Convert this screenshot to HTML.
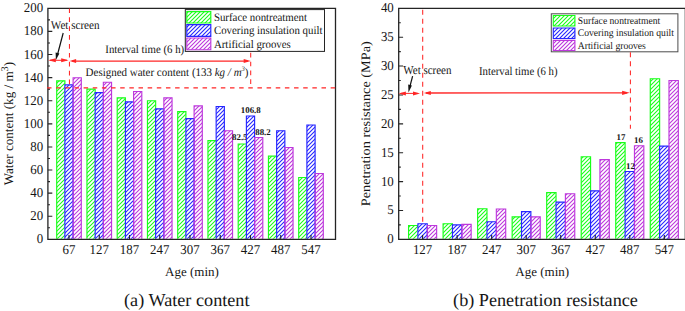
<!DOCTYPE html>
<html lang="en"><head><meta charset="utf-8"><title>Water content and penetration resistance</title>
<style>html,body{margin:0;padding:0;background:#fff}body{width:685px;height:311px;overflow:hidden}svg{display:block;font-family:"Liberation Serif","Times New Roman",Times,serif;fill:#111}svg text{fill:#161616;text-rendering:geometricPrecision}</style></head><body>
<svg width="685" height="311" viewBox="0 0 685 311">
<defs>
</defs>
<rect width="685" height="311" fill="#fff"/>
<g id="chart-a">
<rect x="185.3" y="9.6" width="139.2" height="41.8" fill="#fff" stroke="#242424" stroke-width="1"/>
<clipPath id="ag"><rect x="56.7" y="80.85" width="8.2" height="158"/><rect x="86.95" y="89.17" width="8.2" height="149.68"/><rect x="117.2" y="97.83" width="8.2" height="141.02"/><rect x="147.45" y="100.72" width="8.2" height="138.13"/><rect x="177.7" y="111.69" width="8.2" height="127.16"/><rect x="207.95" y="140.58" width="8.2" height="98.27"/><rect x="238.2" y="144.04" width="8.2" height="94.81"/><rect x="268.45" y="156.17" width="8.2" height="82.68"/><rect x="298.7" y="177.54" width="8.2" height="61.31"/><rect x="186.8" y="11.65" width="24" height="11.3"/></clipPath>
<path d="M47.9,12.1L51.7,8.3M47.9,16.1L55.7,8.3M47.9,20.1L59.7,8.3M47.9,24.1L63.7,8.3M47.9,28.1L67.7,8.3M47.9,32.1L71.7,8.3M47.9,36.1L75.7,8.3M47.9,40.1L79.7,8.3M47.9,44.1L83.7,8.3M47.9,48.1L87.7,8.3M47.9,52.1L91.7,8.3M47.9,56.1L95.7,8.3M47.9,60.1L99.7,8.3M47.9,64.1L103.7,8.3M47.9,68.1L107.7,8.3M47.9,72.1L111.7,8.3M47.9,76.1L115.7,8.3M47.9,80.1L119.7,8.3M47.9,84.1L123.7,8.3M47.9,88.1L127.7,8.3M47.9,92.1L131.7,8.3M47.9,96.1L135.7,8.3M47.9,100.1L139.7,8.3M47.9,104.1L143.7,8.3M47.9,108.1L147.7,8.3M47.9,112.1L151.7,8.3M47.9,116.1L155.7,8.3M47.9,120.1L159.7,8.3M47.9,124.1L163.7,8.3M47.9,128.1L167.7,8.3M47.9,132.1L171.7,8.3M47.9,136.1L175.7,8.3M47.9,140.1L179.7,8.3M47.9,144.1L183.7,8.3M47.9,148.1L187.7,8.3M47.9,152.1L191.7,8.3M47.9,156.1L195.7,8.3M47.9,160.1L199.7,8.3M47.9,164.1L203.7,8.3M47.9,168.1L207.7,8.3M47.9,172.1L211.7,8.3M47.9,176.1L215.7,8.3M47.9,180.1L219.7,8.3M47.9,184.1L223.7,8.3M47.9,188.1L227.7,8.3M47.9,192.1L231.7,8.3M47.9,196.1L235.7,8.3M47.9,200.1L239.7,8.3M47.9,204.1L243.7,8.3M47.9,208.1L247.7,8.3M47.9,212.1L251.7,8.3M47.9,216.1L255.7,8.3M47.9,220.1L259.7,8.3M47.9,224.1L263.7,8.3M47.9,228.1L267.7,8.3M47.9,232.1L271.7,8.3M47.9,236.1L275.7,8.3M48.65,239.35L279.7,8.3M52.65,239.35L283.7,8.3M56.65,239.35L287.7,8.3M60.65,239.35L291.7,8.3M64.65,239.35L295.7,8.3M68.65,239.35L299.7,8.3M72.65,239.35L303.7,8.3M76.65,239.35L307.7,8.3M80.65,239.35L311.7,8.3M84.65,239.35L315.7,8.3M88.65,239.35L319.7,8.3M92.65,239.35L323.7,8.3M96.65,239.35L327.7,8.3M100.65,239.35L331.7,8.3M104.65,239.35L335.5,8.5M108.65,239.35L335.5,12.5M112.65,239.35L335.5,16.5M116.65,239.35L335.5,20.5M120.65,239.35L335.5,24.5M124.65,239.35L335.5,28.5M128.65,239.35L335.5,32.5M132.65,239.35L335.5,36.5M136.65,239.35L335.5,40.5M140.65,239.35L335.5,44.5M144.65,239.35L335.5,48.5M148.65,239.35L335.5,52.5M152.65,239.35L335.5,56.5M156.65,239.35L335.5,60.5M160.65,239.35L335.5,64.5M164.65,239.35L335.5,68.5M168.65,239.35L335.5,72.5M172.65,239.35L335.5,76.5M176.65,239.35L335.5,80.5M180.65,239.35L335.5,84.5M184.65,239.35L335.5,88.5M188.65,239.35L335.5,92.5M192.65,239.35L335.5,96.5M196.65,239.35L335.5,100.5M200.65,239.35L335.5,104.5M204.65,239.35L335.5,108.5M208.65,239.35L335.5,112.5M212.65,239.35L335.5,116.5M216.65,239.35L335.5,120.5M220.65,239.35L335.5,124.5M224.65,239.35L335.5,128.5M228.65,239.35L335.5,132.5M232.65,239.35L335.5,136.5M236.65,239.35L335.5,140.5M240.65,239.35L335.5,144.5M244.65,239.35L335.5,148.5M248.65,239.35L335.5,152.5M252.65,239.35L335.5,156.5M256.65,239.35L335.5,160.5M260.65,239.35L335.5,164.5M264.65,239.35L335.5,168.5M268.65,239.35L335.5,172.5M272.65,239.35L335.5,176.5M276.65,239.35L335.5,180.5M280.65,239.35L335.5,184.5M284.65,239.35L335.5,188.5M288.65,239.35L335.5,192.5M292.65,239.35L335.5,196.5M296.65,239.35L335.5,200.5M300.65,239.35L335.5,204.5M304.65,239.35L335.5,208.5M308.65,239.35L335.5,212.5M312.65,239.35L335.5,216.5M316.65,239.35L335.5,220.5M320.65,239.35L335.5,224.5M324.65,239.35L335.5,228.5M328.65,239.35L335.5,232.5M332.65,239.35L335.5,236.5" clip-path="url(#ag)" stroke="#19ff19" stroke-width="1.1" fill="none"/>
<path d="M56.7,238.85V80.85H64.9V84.89M86.95,238.85V89.17H95.15V92.63M117.2,238.85V97.83H125.4V101.88M147.45,238.85V100.72H155.65V108.81M177.7,238.85V111.69H185.9V118.63M207.95,238.85V140.58H216.15M238.2,238.85V144.04H246.4M268.45,238.85V156.17H276.65M298.7,238.85V177.54H306.9" fill="none" stroke="#19ff19" stroke-width="1.15"/>
<path d="M186.8,22.95V11.65H210.8V22.95H186.8Z" fill="none" stroke="#19ff19" stroke-width="1.15"/>
<clipPath id="ab"><rect x="64.9" y="84.89" width="8.2" height="153.96"/><rect x="95.15" y="92.63" width="8.2" height="146.22"/><rect x="125.4" y="101.88" width="8.2" height="136.97"/><rect x="155.65" y="108.81" width="8.2" height="130.04"/><rect x="185.9" y="118.63" width="8.2" height="120.22"/><rect x="216.15" y="106.5" width="8.2" height="132.35"/><rect x="246.4" y="115.97" width="8.2" height="122.88"/><rect x="276.65" y="130.76" width="8.2" height="108.09"/><rect x="306.9" y="124.98" width="8.2" height="113.87"/><rect x="186.8" y="24.55" width="24" height="11.75"/></clipPath>
<path d="M47.9,10.1L49.7,8.3M47.9,14.1L53.7,8.3M47.9,18.1L57.7,8.3M47.9,22.1L61.7,8.3M47.9,26.1L65.7,8.3M47.9,30.1L69.7,8.3M47.9,34.1L73.7,8.3M47.9,38.1L77.7,8.3M47.9,42.1L81.7,8.3M47.9,46.1L85.7,8.3M47.9,50.1L89.7,8.3M47.9,54.1L93.7,8.3M47.9,58.1L97.7,8.3M47.9,62.1L101.7,8.3M47.9,66.1L105.7,8.3M47.9,70.1L109.7,8.3M47.9,74.1L113.7,8.3M47.9,78.1L117.7,8.3M47.9,82.1L121.7,8.3M47.9,86.1L125.7,8.3M47.9,90.1L129.7,8.3M47.9,94.1L133.7,8.3M47.9,98.1L137.7,8.3M47.9,102.1L141.7,8.3M47.9,106.1L145.7,8.3M47.9,110.1L149.7,8.3M47.9,114.1L153.7,8.3M47.9,118.1L157.7,8.3M47.9,122.1L161.7,8.3M47.9,126.1L165.7,8.3M47.9,130.1L169.7,8.3M47.9,134.1L173.7,8.3M47.9,138.1L177.7,8.3M47.9,142.1L181.7,8.3M47.9,146.1L185.7,8.3M47.9,150.1L189.7,8.3M47.9,154.1L193.7,8.3M47.9,158.1L197.7,8.3M47.9,162.1L201.7,8.3M47.9,166.1L205.7,8.3M47.9,170.1L209.7,8.3M47.9,174.1L213.7,8.3M47.9,178.1L217.7,8.3M47.9,182.1L221.7,8.3M47.9,186.1L225.7,8.3M47.9,190.1L229.7,8.3M47.9,194.1L233.7,8.3M47.9,198.1L237.7,8.3M47.9,202.1L241.7,8.3M47.9,206.1L245.7,8.3M47.9,210.1L249.7,8.3M47.9,214.1L253.7,8.3M47.9,218.1L257.7,8.3M47.9,222.1L261.7,8.3M47.9,226.1L265.7,8.3M47.9,230.1L269.7,8.3M47.9,234.1L273.7,8.3M47.9,238.1L277.7,8.3M50.65,239.35L281.7,8.3M54.65,239.35L285.7,8.3M58.65,239.35L289.7,8.3M62.65,239.35L293.7,8.3M66.65,239.35L297.7,8.3M70.65,239.35L301.7,8.3M74.65,239.35L305.7,8.3M78.65,239.35L309.7,8.3M82.65,239.35L313.7,8.3M86.65,239.35L317.7,8.3M90.65,239.35L321.7,8.3M94.65,239.35L325.7,8.3M98.65,239.35L329.7,8.3M102.65,239.35L333.7,8.3M106.65,239.35L335.5,10.5M110.65,239.35L335.5,14.5M114.65,239.35L335.5,18.5M118.65,239.35L335.5,22.5M122.65,239.35L335.5,26.5M126.65,239.35L335.5,30.5M130.65,239.35L335.5,34.5M134.65,239.35L335.5,38.5M138.65,239.35L335.5,42.5M142.65,239.35L335.5,46.5M146.65,239.35L335.5,50.5M150.65,239.35L335.5,54.5M154.65,239.35L335.5,58.5M158.65,239.35L335.5,62.5M162.65,239.35L335.5,66.5M166.65,239.35L335.5,70.5M170.65,239.35L335.5,74.5M174.65,239.35L335.5,78.5M178.65,239.35L335.5,82.5M182.65,239.35L335.5,86.5M186.65,239.35L335.5,90.5M190.65,239.35L335.5,94.5M194.65,239.35L335.5,98.5M198.65,239.35L335.5,102.5M202.65,239.35L335.5,106.5M206.65,239.35L335.5,110.5M210.65,239.35L335.5,114.5M214.65,239.35L335.5,118.5M218.65,239.35L335.5,122.5M222.65,239.35L335.5,126.5M226.65,239.35L335.5,130.5M230.65,239.35L335.5,134.5M234.65,239.35L335.5,138.5M238.65,239.35L335.5,142.5M242.65,239.35L335.5,146.5M246.65,239.35L335.5,150.5M250.65,239.35L335.5,154.5M254.65,239.35L335.5,158.5M258.65,239.35L335.5,162.5M262.65,239.35L335.5,166.5M266.65,239.35L335.5,170.5M270.65,239.35L335.5,174.5M274.65,239.35L335.5,178.5M278.65,239.35L335.5,182.5M282.65,239.35L335.5,186.5M286.65,239.35L335.5,190.5M290.65,239.35L335.5,194.5M294.65,239.35L335.5,198.5M298.65,239.35L335.5,202.5M302.65,239.35L335.5,206.5M306.65,239.35L335.5,210.5M310.65,239.35L335.5,214.5M314.65,239.35L335.5,218.5M318.65,239.35L335.5,222.5M322.65,239.35L335.5,226.5M326.65,239.35L335.5,230.5M330.65,239.35L335.5,234.5M334.65,239.35L335.5,238.5" clip-path="url(#ab)" stroke="#2626ff" stroke-width="1.1" fill="none"/>
<path d="M64.9,238.85V84.89H73.1V238.85M95.15,238.85V92.63H103.35V238.85M125.4,238.85V101.88H133.6V238.85M155.65,238.85V108.81H163.85V238.85M185.9,238.85V118.63H194.1V238.85M216.15,238.85V106.5H224.35V238.85M246.4,238.85V115.97H254.6V238.85M276.65,238.85V130.76H284.85V238.85M306.9,238.85V124.98H315.1V238.85" fill="none" stroke="#2626ff" stroke-width="1.15"/>
<path d="M186.8,36.3V24.55H210.8V36.3H186.8Z" fill="none" stroke="#2626ff" stroke-width="1.15"/>
<clipPath id="ap"><rect x="73.1" y="77.73" width="8.2" height="161.12"/><rect x="103.35" y="82.24" width="8.2" height="156.61"/><rect x="133.6" y="91.48" width="8.2" height="147.37"/><rect x="163.85" y="97.83" width="8.2" height="141.02"/><rect x="194.1" y="105.92" width="8.2" height="132.93"/><rect x="224.35" y="130.76" width="8.2" height="108.09"/><rect x="254.6" y="137.46" width="8.2" height="101.39"/><rect x="284.85" y="147.51" width="8.2" height="91.34"/><rect x="315.1" y="173.5" width="8.2" height="65.35"/><rect x="186.8" y="38" width="24" height="11.75"/></clipPath>
<path d="M47.9,9.1L48.7,8.3M47.9,13.1L52.7,8.3M47.9,17.1L56.7,8.3M47.9,21.1L60.7,8.3M47.9,25.1L64.7,8.3M47.9,29.1L68.7,8.3M47.9,33.1L72.7,8.3M47.9,37.1L76.7,8.3M47.9,41.1L80.7,8.3M47.9,45.1L84.7,8.3M47.9,49.1L88.7,8.3M47.9,53.1L92.7,8.3M47.9,57.1L96.7,8.3M47.9,61.1L100.7,8.3M47.9,65.1L104.7,8.3M47.9,69.1L108.7,8.3M47.9,73.1L112.7,8.3M47.9,77.1L116.7,8.3M47.9,81.1L120.7,8.3M47.9,85.1L124.7,8.3M47.9,89.1L128.7,8.3M47.9,93.1L132.7,8.3M47.9,97.1L136.7,8.3M47.9,101.1L140.7,8.3M47.9,105.1L144.7,8.3M47.9,109.1L148.7,8.3M47.9,113.1L152.7,8.3M47.9,117.1L156.7,8.3M47.9,121.1L160.7,8.3M47.9,125.1L164.7,8.3M47.9,129.1L168.7,8.3M47.9,133.1L172.7,8.3M47.9,137.1L176.7,8.3M47.9,141.1L180.7,8.3M47.9,145.1L184.7,8.3M47.9,149.1L188.7,8.3M47.9,153.1L192.7,8.3M47.9,157.1L196.7,8.3M47.9,161.1L200.7,8.3M47.9,165.1L204.7,8.3M47.9,169.1L208.7,8.3M47.9,173.1L212.7,8.3M47.9,177.1L216.7,8.3M47.9,181.1L220.7,8.3M47.9,185.1L224.7,8.3M47.9,189.1L228.7,8.3M47.9,193.1L232.7,8.3M47.9,197.1L236.7,8.3M47.9,201.1L240.7,8.3M47.9,205.1L244.7,8.3M47.9,209.1L248.7,8.3M47.9,213.1L252.7,8.3M47.9,217.1L256.7,8.3M47.9,221.1L260.7,8.3M47.9,225.1L264.7,8.3M47.9,229.1L268.7,8.3M47.9,233.1L272.7,8.3M47.9,237.1L276.7,8.3M49.65,239.35L280.7,8.3M53.65,239.35L284.7,8.3M57.65,239.35L288.7,8.3M61.65,239.35L292.7,8.3M65.65,239.35L296.7,8.3M69.65,239.35L300.7,8.3M73.65,239.35L304.7,8.3M77.65,239.35L308.7,8.3M81.65,239.35L312.7,8.3M85.65,239.35L316.7,8.3M89.65,239.35L320.7,8.3M93.65,239.35L324.7,8.3M97.65,239.35L328.7,8.3M101.65,239.35L332.7,8.3M105.65,239.35L335.5,9.5M109.65,239.35L335.5,13.5M113.65,239.35L335.5,17.5M117.65,239.35L335.5,21.5M121.65,239.35L335.5,25.5M125.65,239.35L335.5,29.5M129.65,239.35L335.5,33.5M133.65,239.35L335.5,37.5M137.65,239.35L335.5,41.5M141.65,239.35L335.5,45.5M145.65,239.35L335.5,49.5M149.65,239.35L335.5,53.5M153.65,239.35L335.5,57.5M157.65,239.35L335.5,61.5M161.65,239.35L335.5,65.5M165.65,239.35L335.5,69.5M169.65,239.35L335.5,73.5M173.65,239.35L335.5,77.5M177.65,239.35L335.5,81.5M181.65,239.35L335.5,85.5M185.65,239.35L335.5,89.5M189.65,239.35L335.5,93.5M193.65,239.35L335.5,97.5M197.65,239.35L335.5,101.5M201.65,239.35L335.5,105.5M205.65,239.35L335.5,109.5M209.65,239.35L335.5,113.5M213.65,239.35L335.5,117.5M217.65,239.35L335.5,121.5M221.65,239.35L335.5,125.5M225.65,239.35L335.5,129.5M229.65,239.35L335.5,133.5M233.65,239.35L335.5,137.5M237.65,239.35L335.5,141.5M241.65,239.35L335.5,145.5M245.65,239.35L335.5,149.5M249.65,239.35L335.5,153.5M253.65,239.35L335.5,157.5M257.65,239.35L335.5,161.5M261.65,239.35L335.5,165.5M265.65,239.35L335.5,169.5M269.65,239.35L335.5,173.5M273.65,239.35L335.5,177.5M277.65,239.35L335.5,181.5M281.65,239.35L335.5,185.5M285.65,239.35L335.5,189.5M289.65,239.35L335.5,193.5M293.65,239.35L335.5,197.5M297.65,239.35L335.5,201.5M301.65,239.35L335.5,205.5M305.65,239.35L335.5,209.5M309.65,239.35L335.5,213.5M313.65,239.35L335.5,217.5M317.65,239.35L335.5,221.5M321.65,239.35L335.5,225.5M325.65,239.35L335.5,229.5M329.65,239.35L335.5,233.5M333.65,239.35L335.5,237.5" clip-path="url(#ap)" stroke="#bd38dc" stroke-width="1.1" fill="none"/>
<path d="M73.1,238.85V77.73H81.3V238.85M103.35,238.85V82.24H111.55V238.85M133.6,238.85V91.48H141.8V238.85M163.85,238.85V97.83H172.05V238.85M194.1,238.85V105.92H202.3V238.85M224.35,238.85V130.76H232.55V238.85M254.6,238.85V137.46H262.8V238.85M284.85,238.85V147.51H293.05V238.85M315.1,238.85V173.5H323.3V238.85" fill="none" stroke="#bd38dc" stroke-width="1.15"/>
<path d="M186.8,49.75V38H210.8V49.75H186.8Z" fill="none" stroke="#bd38dc" stroke-width="1.15"/>
<path d="M47.9,8.3 H335.5 V239.35 H47.9 Z" fill="none" stroke="#242424" stroke-width="1.3"/>
<path d="M47.9,227.8 h2.1 M47.9,216.25 h4.4 M47.9,204.69 h2.1 M47.9,193.14 h4.4 M47.9,181.59 h2.1 M47.9,170.03 h4.4 M47.9,158.48 h2.1 M47.9,146.93 h4.4 M47.9,135.38 h2.1 M47.9,123.83 h4.4 M47.9,112.27 h2.1 M47.9,100.72 h4.4 M47.9,89.17 h2.1 M47.9,77.62 h4.4 M47.9,66.06 h2.1 M47.9,54.51 h4.4 M47.9,42.96 h2.1 M47.9,31.41 h4.4 M47.9,19.85 h2.1 M69,239.35 v-4.4 M99.25,239.35 v-4.4 M129.5,239.35 v-4.4 M159.75,239.35 v-4.4 M190,239.35 v-4.4 M220.25,239.35 v-4.4 M250.5,239.35 v-4.4 M280.75,239.35 v-4.4 M311,239.35 v-4.4" fill="none" stroke="#242424" stroke-width="1.1"/>
<text transform="translate(43.1,243.35) scale(1,1.05)" font-size="12.9" text-anchor="end">0</text>
<text transform="translate(43.1,220.25) scale(1,1.05)" font-size="12.9" text-anchor="end">20</text>
<text transform="translate(43.1,197.14) scale(1,1.05)" font-size="12.9" text-anchor="end">40</text>
<text transform="translate(43.1,174.03) scale(1,1.05)" font-size="12.9" text-anchor="end">60</text>
<text transform="translate(43.1,150.93) scale(1,1.05)" font-size="12.9" text-anchor="end">80</text>
<text transform="translate(43.1,127.83) scale(1,1.05)" font-size="12.9" text-anchor="end">100</text>
<text transform="translate(43.1,104.72) scale(1,1.05)" font-size="12.9" text-anchor="end">120</text>
<text transform="translate(43.1,81.62) scale(1,1.05)" font-size="12.9" text-anchor="end">140</text>
<text transform="translate(43.1,58.51) scale(1,1.05)" font-size="12.9" text-anchor="end">160</text>
<text transform="translate(43.1,35.41) scale(1,1.05)" font-size="12.9" text-anchor="end">180</text>
<text transform="translate(43.1,12.3) scale(1,1.05)" font-size="12.9" text-anchor="end">200</text>
<text transform="translate(69,254.3) scale(1,1.05)" font-size="12.9" text-anchor="middle">67</text>
<text transform="translate(99.25,254.3) scale(1,1.05)" font-size="12.9" text-anchor="middle">127</text>
<text transform="translate(129.5,254.3) scale(1,1.05)" font-size="12.9" text-anchor="middle">187</text>
<text transform="translate(159.75,254.3) scale(1,1.05)" font-size="12.9" text-anchor="middle">247</text>
<text transform="translate(190,254.3) scale(1,1.05)" font-size="12.9" text-anchor="middle">307</text>
<text transform="translate(220.25,254.3) scale(1,1.05)" font-size="12.9" text-anchor="middle">367</text>
<text transform="translate(250.5,254.3) scale(1,1.05)" font-size="12.9" text-anchor="middle">427</text>
<text transform="translate(280.75,254.3) scale(1,1.05)" font-size="12.9" text-anchor="middle">487</text>
<text transform="translate(311,254.3) scale(1,1.05)" font-size="12.9" text-anchor="middle">547</text>
<path d="M47,87.8 H336" stroke="#ff2626" stroke-width="1.25" stroke-dasharray="4.5 4.65" fill="none"/>
<path d="M69.45,8.4 V84.3" stroke="#ff2626" stroke-width="1.05" stroke-dasharray="4.7 4.2" fill="none"/>
<path d="M250.7,52.8 V88" stroke="#ff2626" stroke-width="1.05" stroke-dasharray="4.7 4.13" fill="none"/>
<path d="M50,60.3 H67" stroke="#ff2626" stroke-width="1" fill="none"/>
<path d="M72,61.0 L248,61.1" stroke="#ff2626" stroke-width="1.25" fill="none"/>
<path d="M48.2,60.3 L55.8,58.3 L55.8,62.3 Z" fill="#ff2626"/>
<path d="M68.6,60.3 L61.2,58.3 L61.2,62.3 Z" fill="#ff2626"/>
<path d="M69.7,61 L76.1,58.9 L76.1,63.1 Z" fill="#ff2626"/>
<path d="M250.8,61.1 L243.7,59.1 L243.7,63.1 Z" fill="#ff2626"/>
<path d="M63.2,33 L57.4,55" stroke="#111" stroke-width="1.2" fill="none"/>
<path d="M55.9,60 L55.6,52.4 L59.4,53.4 Z" fill="#111"/>
<text transform="translate(50.8,28.8) scale(1,1.08)" font-size="11.1">Wet screen</text>
<text transform="translate(105.3,52.9) scale(1,1.08)" font-size="10.8">Interval time (6 h)</text>
<text transform="translate(85.6,75.8) scale(1,1.06)" font-size="10.98">Designed water content (133 <tspan font-style="italic">kg / m</tspan><tspan font-style="italic" font-size="6.6" dy="-4.9">3</tspan><tspan dy="4.9">)</tspan></text>
<text x="240.8" y="112.7" font-size="8.9" font-weight="bold">106.8</text>
<clipPath id="lab825"><rect x="225" y="128" width="21" height="16"/></clipPath>
<text x="232" y="140.2" font-size="8.9" font-weight="bold" clip-path="url(#lab825)">82.5</text>
<text x="255.2" y="134.6" font-size="8.9" font-weight="bold">88.2</text>
<text transform="translate(213.9,21) scale(1,1.06)" font-size="10.86">Surface nontreatment</text>
<text transform="translate(213.9,34.2) scale(1,1.06)" font-size="10.86">Covering insulation quilt</text>
<text transform="translate(213.9,47.8) scale(1,1.06)" font-size="10.86">Artificial grooves</text>
<text x="192" y="276" font-size="13" text-anchor="middle">Age (min)</text>
<text transform="translate(13.0,123.6) rotate(-90)" text-anchor="middle" font-size="13.1">Water content (kg / m<tspan font-size="10.2" dy="-5">3</tspan><tspan dy="5">)</tspan></text>
<text x="186.8" y="305.8" font-size="18.2" text-anchor="middle">(a) Water content</text>
</g>
<g id="chart-b">
<rect x="551.3" y="13.8" width="126.6" height="38" fill="#fff" stroke="#4c4c4c" stroke-width="1"/>
<clipPath id="bg"><rect x="408.56" y="225.49" width="9.36" height="13.36"/><rect x="443.09" y="223.75" width="9.36" height="15.1"/><rect x="477.62" y="208.74" width="9.36" height="30.11"/><rect x="512.15" y="216.82" width="9.36" height="22.03"/><rect x="546.68" y="192.56" width="9.36" height="46.29"/><rect x="581.21" y="156.75" width="9.36" height="82.1"/><rect x="615.74" y="142.6" width="9.36" height="96.25"/><rect x="650.27" y="78.77" width="9.36" height="160.08"/><rect x="553.3" y="15.5" width="21.6" height="10.5"/></clipPath>
<path d="M398.7,9.3L399.7,8.3M398.7,13.3L403.7,8.3M398.7,17.3L407.7,8.3M398.7,21.3L411.7,8.3M398.7,25.3L415.7,8.3M398.7,29.3L419.7,8.3M398.7,33.3L423.7,8.3M398.7,37.3L427.7,8.3M398.7,41.3L431.7,8.3M398.7,45.3L435.7,8.3M398.7,49.3L439.7,8.3M398.7,53.3L443.7,8.3M398.7,57.3L447.7,8.3M398.7,61.3L451.7,8.3M398.7,65.3L455.7,8.3M398.7,69.3L459.7,8.3M398.7,73.3L463.7,8.3M398.7,77.3L467.7,8.3M398.7,81.3L471.7,8.3M398.7,85.3L475.7,8.3M398.7,89.3L479.7,8.3M398.7,93.3L483.7,8.3M398.7,97.3L487.7,8.3M398.7,101.3L491.7,8.3M398.7,105.3L495.7,8.3M398.7,109.3L499.7,8.3M398.7,113.3L503.7,8.3M398.7,117.3L507.7,8.3M398.7,121.3L511.7,8.3M398.7,125.3L515.7,8.3M398.7,129.3L519.7,8.3M398.7,133.3L523.7,8.3M398.7,137.3L527.7,8.3M398.7,141.3L531.7,8.3M398.7,145.3L535.7,8.3M398.7,149.3L539.7,8.3M398.7,153.3L543.7,8.3M398.7,157.3L547.7,8.3M398.7,161.3L551.7,8.3M398.7,165.3L555.7,8.3M398.7,169.3L559.7,8.3M398.7,173.3L563.7,8.3M398.7,177.3L567.7,8.3M398.7,181.3L571.7,8.3M398.7,185.3L575.7,8.3M398.7,189.3L579.7,8.3M398.7,193.3L583.7,8.3M398.7,197.3L587.7,8.3M398.7,201.3L591.7,8.3M398.7,205.3L595.7,8.3M398.7,209.3L599.7,8.3M398.7,213.3L603.7,8.3M398.7,217.3L607.7,8.3M398.7,221.3L611.7,8.3M398.7,225.3L615.7,8.3M398.7,229.3L619.7,8.3M398.7,233.3L623.7,8.3M398.7,237.3L627.7,8.3M400.65,239.35L631.7,8.3M404.65,239.35L635.7,8.3M408.65,239.35L639.7,8.3M412.65,239.35L643.7,8.3M416.65,239.35L647.7,8.3M420.65,239.35L651.7,8.3M424.65,239.35L655.7,8.3M428.65,239.35L659.7,8.3M432.65,239.35L663.7,8.3M436.65,239.35L667.7,8.3M440.65,239.35L671.7,8.3M444.65,239.35L675.7,8.3M448.65,239.35L679.7,8.3M452.65,239.35L683.7,8.3M456.65,239.35L685.35,10.65M460.65,239.35L685.35,14.65M464.65,239.35L685.35,18.65M468.65,239.35L685.35,22.65M472.65,239.35L685.35,26.65M476.65,239.35L685.35,30.65M480.65,239.35L685.35,34.65M484.65,239.35L685.35,38.65M488.65,239.35L685.35,42.65M492.65,239.35L685.35,46.65M496.65,239.35L685.35,50.65M500.65,239.35L685.35,54.65M504.65,239.35L685.35,58.65M508.65,239.35L685.35,62.65M512.65,239.35L685.35,66.65M516.65,239.35L685.35,70.65M520.65,239.35L685.35,74.65M524.65,239.35L685.35,78.65M528.65,239.35L685.35,82.65M532.65,239.35L685.35,86.65M536.65,239.35L685.35,90.65M540.65,239.35L685.35,94.65M544.65,239.35L685.35,98.65M548.65,239.35L685.35,102.65M552.65,239.35L685.35,106.65M556.65,239.35L685.35,110.65M560.65,239.35L685.35,114.65M564.65,239.35L685.35,118.65M568.65,239.35L685.35,122.65M572.65,239.35L685.35,126.65M576.65,239.35L685.35,130.65M580.65,239.35L685.35,134.65M584.65,239.35L685.35,138.65M588.65,239.35L685.35,142.65M592.65,239.35L685.35,146.65M596.65,239.35L685.35,150.65M600.65,239.35L685.35,154.65M604.65,239.35L685.35,158.65M608.65,239.35L685.35,162.65M612.65,239.35L685.35,166.65M616.65,239.35L685.35,170.65M620.65,239.35L685.35,174.65M624.65,239.35L685.35,178.65M628.65,239.35L685.35,182.65M632.65,239.35L685.35,186.65M636.65,239.35L685.35,190.65M640.65,239.35L685.35,194.65M644.65,239.35L685.35,198.65M648.65,239.35L685.35,202.65M652.65,239.35L685.35,206.65M656.65,239.35L685.35,210.65M660.65,239.35L685.35,214.65M664.65,239.35L685.35,218.65M668.65,239.35L685.35,222.65M672.65,239.35L685.35,226.65M676.65,239.35L685.35,230.65M680.65,239.35L685.35,234.65M684.65,239.35L685.35,238.65" clip-path="url(#bg)" stroke="#19ff19" stroke-width="1.1" fill="none"/>
<path d="M408.56,238.85V225.49H417.92M443.09,238.85V223.75H452.45V224.91M477.62,238.85V208.74H486.98V221.73M512.15,238.85V216.82H521.51M546.68,238.85V192.56H556.04V202.09M581.21,238.85V156.75H590.57V190.83M615.74,238.85V142.6H625.1V171.54M650.27,238.85V78.77H659.63V146.06" fill="none" stroke="#19ff19" stroke-width="1.15"/>
<path d="M553.3,26V15.5H574.9V26H553.3Z" fill="none" stroke="#19ff19" stroke-width="1.15"/>
<clipPath id="bb"><rect x="417.92" y="223.75" width="9.36" height="15.1"/><rect x="452.45" y="224.91" width="9.36" height="13.94"/><rect x="486.98" y="221.73" width="9.36" height="17.12"/><rect x="521.51" y="211.62" width="9.36" height="27.23"/><rect x="556.04" y="202.09" width="9.36" height="36.76"/><rect x="590.57" y="190.83" width="9.36" height="48.02"/><rect x="625.1" y="171.54" width="9.36" height="67.31"/><rect x="659.63" y="146.06" width="9.36" height="92.79"/><rect x="553.3" y="27.95" width="21.6" height="10.5"/></clipPath>
<path d="M398.7,11.3L401.7,8.3M398.7,15.3L405.7,8.3M398.7,19.3L409.7,8.3M398.7,23.3L413.7,8.3M398.7,27.3L417.7,8.3M398.7,31.3L421.7,8.3M398.7,35.3L425.7,8.3M398.7,39.3L429.7,8.3M398.7,43.3L433.7,8.3M398.7,47.3L437.7,8.3M398.7,51.3L441.7,8.3M398.7,55.3L445.7,8.3M398.7,59.3L449.7,8.3M398.7,63.3L453.7,8.3M398.7,67.3L457.7,8.3M398.7,71.3L461.7,8.3M398.7,75.3L465.7,8.3M398.7,79.3L469.7,8.3M398.7,83.3L473.7,8.3M398.7,87.3L477.7,8.3M398.7,91.3L481.7,8.3M398.7,95.3L485.7,8.3M398.7,99.3L489.7,8.3M398.7,103.3L493.7,8.3M398.7,107.3L497.7,8.3M398.7,111.3L501.7,8.3M398.7,115.3L505.7,8.3M398.7,119.3L509.7,8.3M398.7,123.3L513.7,8.3M398.7,127.3L517.7,8.3M398.7,131.3L521.7,8.3M398.7,135.3L525.7,8.3M398.7,139.3L529.7,8.3M398.7,143.3L533.7,8.3M398.7,147.3L537.7,8.3M398.7,151.3L541.7,8.3M398.7,155.3L545.7,8.3M398.7,159.3L549.7,8.3M398.7,163.3L553.7,8.3M398.7,167.3L557.7,8.3M398.7,171.3L561.7,8.3M398.7,175.3L565.7,8.3M398.7,179.3L569.7,8.3M398.7,183.3L573.7,8.3M398.7,187.3L577.7,8.3M398.7,191.3L581.7,8.3M398.7,195.3L585.7,8.3M398.7,199.3L589.7,8.3M398.7,203.3L593.7,8.3M398.7,207.3L597.7,8.3M398.7,211.3L601.7,8.3M398.7,215.3L605.7,8.3M398.7,219.3L609.7,8.3M398.7,223.3L613.7,8.3M398.7,227.3L617.7,8.3M398.7,231.3L621.7,8.3M398.7,235.3L625.7,8.3M398.7,239.3L629.7,8.3M402.65,239.35L633.7,8.3M406.65,239.35L637.7,8.3M410.65,239.35L641.7,8.3M414.65,239.35L645.7,8.3M418.65,239.35L649.7,8.3M422.65,239.35L653.7,8.3M426.65,239.35L657.7,8.3M430.65,239.35L661.7,8.3M434.65,239.35L665.7,8.3M438.65,239.35L669.7,8.3M442.65,239.35L673.7,8.3M446.65,239.35L677.7,8.3M450.65,239.35L681.7,8.3M454.65,239.35L685.35,8.65M458.65,239.35L685.35,12.65M462.65,239.35L685.35,16.65M466.65,239.35L685.35,20.65M470.65,239.35L685.35,24.65M474.65,239.35L685.35,28.65M478.65,239.35L685.35,32.65M482.65,239.35L685.35,36.65M486.65,239.35L685.35,40.65M490.65,239.35L685.35,44.65M494.65,239.35L685.35,48.65M498.65,239.35L685.35,52.65M502.65,239.35L685.35,56.65M506.65,239.35L685.35,60.65M510.65,239.35L685.35,64.65M514.65,239.35L685.35,68.65M518.65,239.35L685.35,72.65M522.65,239.35L685.35,76.65M526.65,239.35L685.35,80.65M530.65,239.35L685.35,84.65M534.65,239.35L685.35,88.65M538.65,239.35L685.35,92.65M542.65,239.35L685.35,96.65M546.65,239.35L685.35,100.65M550.65,239.35L685.35,104.65M554.65,239.35L685.35,108.65M558.65,239.35L685.35,112.65M562.65,239.35L685.35,116.65M566.65,239.35L685.35,120.65M570.65,239.35L685.35,124.65M574.65,239.35L685.35,128.65M578.65,239.35L685.35,132.65M582.65,239.35L685.35,136.65M586.65,239.35L685.35,140.65M590.65,239.35L685.35,144.65M594.65,239.35L685.35,148.65M598.65,239.35L685.35,152.65M602.65,239.35L685.35,156.65M606.65,239.35L685.35,160.65M610.65,239.35L685.35,164.65M614.65,239.35L685.35,168.65M618.65,239.35L685.35,172.65M622.65,239.35L685.35,176.65M626.65,239.35L685.35,180.65M630.65,239.35L685.35,184.65M634.65,239.35L685.35,188.65M638.65,239.35L685.35,192.65M642.65,239.35L685.35,196.65M646.65,239.35L685.35,200.65M650.65,239.35L685.35,204.65M654.65,239.35L685.35,208.65M658.65,239.35L685.35,212.65M662.65,239.35L685.35,216.65M666.65,239.35L685.35,220.65M670.65,239.35L685.35,224.65M674.65,239.35L685.35,228.65M678.65,239.35L685.35,232.65M682.65,239.35L685.35,236.65" clip-path="url(#bb)" stroke="#2626ff" stroke-width="1.1" fill="none"/>
<path d="M417.92,238.85V223.75H427.28V238.85M452.45,238.85V224.91H461.81V238.85M486.98,238.85V221.73H496.34V238.85M521.51,238.85V211.62H530.87V238.85M556.04,238.85V202.09H565.4V238.85M590.57,238.85V190.83H599.93V238.85M625.1,238.85V171.54H634.46V238.85M659.63,238.85V146.06H668.99V238.85" fill="none" stroke="#2626ff" stroke-width="1.15"/>
<path d="M553.3,38.45V27.95H574.9V38.45H553.3Z" fill="none" stroke="#2626ff" stroke-width="1.15"/>
<clipPath id="bp"><rect x="427.28" y="225.49" width="9.36" height="13.36"/><rect x="461.81" y="224.33" width="9.36" height="14.52"/><rect x="496.34" y="209.02" width="9.36" height="29.83"/><rect x="530.87" y="216.82" width="9.36" height="22.03"/><rect x="565.4" y="193.72" width="9.36" height="45.13"/><rect x="599.93" y="159.64" width="9.36" height="79.21"/><rect x="634.46" y="145.77" width="9.36" height="93.08"/><rect x="668.99" y="80.5" width="9.36" height="158.35"/><rect x="553.3" y="40.4" width="21.6" height="10.1"/></clipPath>
<path d="M398.7,10.3L400.7,8.3M398.7,14.3L404.7,8.3M398.7,18.3L408.7,8.3M398.7,22.3L412.7,8.3M398.7,26.3L416.7,8.3M398.7,30.3L420.7,8.3M398.7,34.3L424.7,8.3M398.7,38.3L428.7,8.3M398.7,42.3L432.7,8.3M398.7,46.3L436.7,8.3M398.7,50.3L440.7,8.3M398.7,54.3L444.7,8.3M398.7,58.3L448.7,8.3M398.7,62.3L452.7,8.3M398.7,66.3L456.7,8.3M398.7,70.3L460.7,8.3M398.7,74.3L464.7,8.3M398.7,78.3L468.7,8.3M398.7,82.3L472.7,8.3M398.7,86.3L476.7,8.3M398.7,90.3L480.7,8.3M398.7,94.3L484.7,8.3M398.7,98.3L488.7,8.3M398.7,102.3L492.7,8.3M398.7,106.3L496.7,8.3M398.7,110.3L500.7,8.3M398.7,114.3L504.7,8.3M398.7,118.3L508.7,8.3M398.7,122.3L512.7,8.3M398.7,126.3L516.7,8.3M398.7,130.3L520.7,8.3M398.7,134.3L524.7,8.3M398.7,138.3L528.7,8.3M398.7,142.3L532.7,8.3M398.7,146.3L536.7,8.3M398.7,150.3L540.7,8.3M398.7,154.3L544.7,8.3M398.7,158.3L548.7,8.3M398.7,162.3L552.7,8.3M398.7,166.3L556.7,8.3M398.7,170.3L560.7,8.3M398.7,174.3L564.7,8.3M398.7,178.3L568.7,8.3M398.7,182.3L572.7,8.3M398.7,186.3L576.7,8.3M398.7,190.3L580.7,8.3M398.7,194.3L584.7,8.3M398.7,198.3L588.7,8.3M398.7,202.3L592.7,8.3M398.7,206.3L596.7,8.3M398.7,210.3L600.7,8.3M398.7,214.3L604.7,8.3M398.7,218.3L608.7,8.3M398.7,222.3L612.7,8.3M398.7,226.3L616.7,8.3M398.7,230.3L620.7,8.3M398.7,234.3L624.7,8.3M398.7,238.3L628.7,8.3M401.65,239.35L632.7,8.3M405.65,239.35L636.7,8.3M409.65,239.35L640.7,8.3M413.65,239.35L644.7,8.3M417.65,239.35L648.7,8.3M421.65,239.35L652.7,8.3M425.65,239.35L656.7,8.3M429.65,239.35L660.7,8.3M433.65,239.35L664.7,8.3M437.65,239.35L668.7,8.3M441.65,239.35L672.7,8.3M445.65,239.35L676.7,8.3M449.65,239.35L680.7,8.3M453.65,239.35L684.7,8.3M457.65,239.35L685.35,11.65M461.65,239.35L685.35,15.65M465.65,239.35L685.35,19.65M469.65,239.35L685.35,23.65M473.65,239.35L685.35,27.65M477.65,239.35L685.35,31.65M481.65,239.35L685.35,35.65M485.65,239.35L685.35,39.65M489.65,239.35L685.35,43.65M493.65,239.35L685.35,47.65M497.65,239.35L685.35,51.65M501.65,239.35L685.35,55.65M505.65,239.35L685.35,59.65M509.65,239.35L685.35,63.65M513.65,239.35L685.35,67.65M517.65,239.35L685.35,71.65M521.65,239.35L685.35,75.65M525.65,239.35L685.35,79.65M529.65,239.35L685.35,83.65M533.65,239.35L685.35,87.65M537.65,239.35L685.35,91.65M541.65,239.35L685.35,95.65M545.65,239.35L685.35,99.65M549.65,239.35L685.35,103.65M553.65,239.35L685.35,107.65M557.65,239.35L685.35,111.65M561.65,239.35L685.35,115.65M565.65,239.35L685.35,119.65M569.65,239.35L685.35,123.65M573.65,239.35L685.35,127.65M577.65,239.35L685.35,131.65M581.65,239.35L685.35,135.65M585.65,239.35L685.35,139.65M589.65,239.35L685.35,143.65M593.65,239.35L685.35,147.65M597.65,239.35L685.35,151.65M601.65,239.35L685.35,155.65M605.65,239.35L685.35,159.65M609.65,239.35L685.35,163.65M613.65,239.35L685.35,167.65M617.65,239.35L685.35,171.65M621.65,239.35L685.35,175.65M625.65,239.35L685.35,179.65M629.65,239.35L685.35,183.65M633.65,239.35L685.35,187.65M637.65,239.35L685.35,191.65M641.65,239.35L685.35,195.65M645.65,239.35L685.35,199.65M649.65,239.35L685.35,203.65M653.65,239.35L685.35,207.65M657.65,239.35L685.35,211.65M661.65,239.35L685.35,215.65M665.65,239.35L685.35,219.65M669.65,239.35L685.35,223.65M673.65,239.35L685.35,227.65M677.65,239.35L685.35,231.65M681.65,239.35L685.35,235.65" clip-path="url(#bp)" stroke="#bd38dc" stroke-width="1.1" fill="none"/>
<path d="M427.28,238.85V225.49H436.64V238.85M461.81,238.85V224.33H471.17V238.85M496.34,238.85V209.02H505.7V238.85M530.87,238.85V216.82H540.23V238.85M565.4,238.85V193.72H574.76V238.85M599.93,238.85V159.64H609.29V238.85M634.46,238.85V145.77H643.82V238.85M668.99,238.85V80.5H678.35V238.85" fill="none" stroke="#bd38dc" stroke-width="1.15"/>
<path d="M553.3,50.5V40.4H574.9V50.5H553.3Z" fill="none" stroke="#bd38dc" stroke-width="1.15"/>
<path d="M398.7,8.3 H685.35 V239.35 H398.7 Z" fill="none" stroke="#242424" stroke-width="1.3"/>
<path d="M398.7,224.91 h2.1 M398.7,210.47 h4.4 M398.7,196.03 h2.1 M398.7,181.59 h4.4 M398.7,167.15 h2.1 M398.7,152.71 h4.4 M398.7,138.27 h2.1 M398.7,123.83 h4.4 M398.7,109.38 h2.1 M398.7,94.94 h4.4 M398.7,80.5 h2.1 M398.7,66.06 h4.4 M398.7,51.62 h2.1 M398.7,37.18 h4.4 M398.7,22.74 h2.1 M422.6,239.35 v-4.4 M457.13,239.35 v-4.4 M491.66,239.35 v-4.4 M526.19,239.35 v-4.4 M560.72,239.35 v-4.4 M595.25,239.35 v-4.4 M629.78,239.35 v-4.4 M664.31,239.35 v-4.4" fill="none" stroke="#242424" stroke-width="1.1"/>
<text transform="translate(393.8,243.35) scale(1,1.05)" font-size="12.9" text-anchor="end">0</text>
<text transform="translate(393.8,214.47) scale(1,1.05)" font-size="12.9" text-anchor="end">5</text>
<text transform="translate(393.8,185.59) scale(1,1.05)" font-size="12.9" text-anchor="end">10</text>
<text transform="translate(393.8,156.71) scale(1,1.05)" font-size="12.9" text-anchor="end">15</text>
<text transform="translate(393.8,127.83) scale(1,1.05)" font-size="12.9" text-anchor="end">20</text>
<text transform="translate(393.8,98.94) scale(1,1.05)" font-size="12.9" text-anchor="end">25</text>
<text transform="translate(393.8,70.06) scale(1,1.05)" font-size="12.9" text-anchor="end">30</text>
<text transform="translate(393.8,41.18) scale(1,1.05)" font-size="12.9" text-anchor="end">35</text>
<text transform="translate(393.8,12.3) scale(1,1.05)" font-size="12.9" text-anchor="end">40</text>
<text transform="translate(422.6,254.3) scale(1,1.05)" font-size="12.9" text-anchor="middle">127</text>
<text transform="translate(457.13,254.3) scale(1,1.05)" font-size="12.9" text-anchor="middle">187</text>
<text transform="translate(491.66,254.3) scale(1,1.05)" font-size="12.9" text-anchor="middle">247</text>
<text transform="translate(526.19,254.3) scale(1,1.05)" font-size="12.9" text-anchor="middle">307</text>
<text transform="translate(560.72,254.3) scale(1,1.05)" font-size="12.9" text-anchor="middle">367</text>
<text transform="translate(595.25,254.3) scale(1,1.05)" font-size="12.9" text-anchor="middle">427</text>
<text transform="translate(629.78,254.3) scale(1,1.05)" font-size="12.9" text-anchor="middle">487</text>
<text transform="translate(664.31,254.3) scale(1,1.05)" font-size="12.9" text-anchor="middle">547</text>
<path d="M422.7,9.8 V222" stroke="#ff2626" stroke-width="1.05" stroke-dasharray="5 4" fill="none"/>
<path d="M630.4,52.3 V128.7" stroke="#ff2626" stroke-width="1.05" stroke-dasharray="4.85 4.2" fill="none"/>
<path d="M401,93.4 H418" stroke="#ff2626" stroke-width="1" fill="none"/>
<path d="M426,93.0 L627,92.8" stroke="#ff2626" stroke-width="1.3" fill="none"/>
<path d="M398.5,93.4 L405.9,91.4 L405.9,95.4 Z" fill="#ff2626"/>
<path d="M420,93.4 L413,91.4 L413,95.4 Z" fill="#ff2626"/>
<path d="M423.8,93 L430.8,90.9 L430.8,95.1 Z" fill="#ff2626"/>
<path d="M629.7,92.8 L622.1,90.7 L622.1,94.9 Z" fill="#ff2626"/>
<path d="M412.6,76.2 L409.8,87" stroke="#111" stroke-width="1.2" fill="none"/>
<path d="M408.5,92.6 L408.2,84.6 L411.9,85.6 Z" fill="#111"/>
<text transform="translate(403.3,73.9) scale(1,1.1)" font-size="10.98">Wet screen</text>
<text transform="translate(479,75) scale(1,1.1)" font-size="10.75">Interval time (6 h)</text>
<text x="616.5" y="140.2" font-size="8.9" font-weight="bold">17</text>
<text x="634.1" y="142.7" font-size="8.9" font-weight="bold">16</text>
<text x="626" y="168.7" font-size="8.9" font-weight="bold">12</text>
<text transform="translate(577.8,24) scale(1,1.06)" font-size="9.62">Surface nontreatment</text>
<text transform="translate(577.8,36.3) scale(1,1.06)" font-size="9.62">Covering insulation quilt</text>
<text transform="translate(577.8,48.7) scale(1,1.06)" font-size="9.62">Artificial grooves</text>
<text x="542.2" y="276.2" font-size="13" text-anchor="middle">Age (min)</text>
<text transform="translate(370.3,123.7) rotate(-90) scale(1.1,1)" text-anchor="middle" font-size="13.0">Penetration resistance (MPa)</text>
<text x="545.5" y="305.8" font-size="18.2" text-anchor="middle">(b) Penetration resistance</text>
</g>
</svg></body></html>
